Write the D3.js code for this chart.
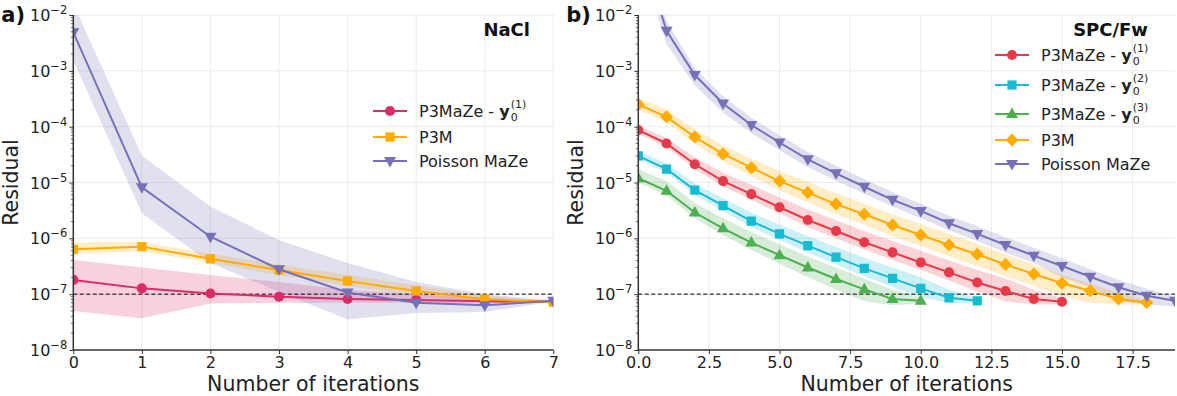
<!DOCTYPE html>
<html><head><meta charset="utf-8">
<script src="https://cdn.jsdelivr.net/npm/d3@7/dist/d3.min.js"></script>
<style>body{margin:0;background:#fff}svg{display:block;font-family:"DejaVu Sans",sans-serif}</style>
</head><body><svg id="c" width="1177" height="396"></svg>
<script>
// ---------- data: panel a) NaCl ----------
const itersA = [0,1,2,3,4,5,6,7];
const aP3MaZe    = [1.8e-7,1.27e-7,1.03e-7,9.0e-8,8.2e-8,7.9e-8,7.5e-8,7.3e-8];
const aP3MaZeLo  = [5.0e-8,3.7e-8,6.8e-8,7.0e-8,7.0e-8,7.0e-8,6.8e-8,7.0e-8];
const aP3MaZeHi  = [4.1e-7,3.0e-7,2.2e-7,1.65e-7,1.2e-7,1.0e-7,8.5e-8,7.6e-8];
const aP3M       = [6.35e-7,7.1e-7,4.3e-7,2.7e-7,1.72e-7,1.14e-7,8.1e-8,7.2e-8];
const aP3MLo     = [5.3e-7,5.9e-7,3.6e-7,2.2e-7,1.4e-7,9.5e-8,7.2e-8,7.0e-8];
const aP3MHi     = [8.4e-7,8.6e-7,5.3e-7,3.4e-7,2.2e-7,1.45e-7,9.5e-8,7.5e-8];
const aPM        = [4.9e-3,8.2e-6,1.07e-6,2.8e-7,1.07e-7,7.0e-8,6.3e-8,7.6e-8];
const aPMLo      = [1.55e-3,2.8e-6,3.6e-7,1.1e-7,3.5e-8,4.6e-8,4.8e-8,7.3e-8];
const aPMHi      = [1.6e-2,3.0e-5,3.7e-6,9.3e-7,3.6e-7,1.65e-7,1.0e-7,7.8e-8];
const ticksA = [0,1,2,3,4,5,6,7];

// ---------- data: panel b) SPC/Fw ----------
const bY1   = [8.7e-5,5.0e-5,2.12e-5,1.06e-5,6.2e-6,3.6e-6,2.13e-6,1.35e-6,8.5e-7,5.6e-7,3.7e-7,2.46e-7,1.62e-7,1.14e-7,8.2e-8,7.3e-8];
const bY1Lo = [7.5e-5,4.3e-5,1.75e-5,8.5e-6,4.9e-6,2.8e-6,1.6e-6,1.0e-6,6.3e-7,4.1e-7,2.7e-7,1.75e-7,1.1e-7,7.5e-8,6.5e-8,6.5e-8];
const bY1Hi = [1.05e-4,6.2e-5,2.8e-5,1.5e-5,9.0e-6,5.4e-6,3.3e-6,2.1e-6,1.35e-6,9.0e-7,6.0e-7,4.0e-7,2.7e-7,1.9e-7,1.2e-7,8.5e-8];
const bY2   = [3.0e-5,1.74e-5,7.3e-6,3.85e-6,2.04e-6,1.2e-6,7.4e-7,4.6e-7,2.9e-7,1.92e-7,1.27e-7,8.6e-8,7.6e-8];
const bY2Lo = [2.6e-5,1.5e-5,6.0e-6,3.1e-6,1.6e-6,9.3e-7,5.6e-7,3.4e-7,2.1e-7,1.35e-7,8.8e-8,7.0e-8,7.0e-8];
const bY2Hi = [3.7e-5,2.2e-5,9.5e-6,5.2e-6,2.9e-6,1.75e-6,1.1e-6,7.0e-7,4.5e-7,3.0e-7,2.0e-7,1.2e-7,8.5e-8];
const bY3   = [1.19e-5,7.1e-6,2.9e-6,1.51e-6,8.4e-7,5.0e-7,3.0e-7,1.87e-7,1.22e-7,8.2e-8,7.6e-8];
const bY3Lo = [1.0e-5,5.8e-6,2.3e-6,1.15e-6,6.2e-7,3.5e-7,2.0e-7,1.2e-7,7.5e-8,6.3e-8,6.8e-8];
const bY3Hi = [1.75e-5,1.05e-5,4.3e-6,2.3e-6,1.3e-6,7.8e-7,4.7e-7,3.0e-7,1.9e-7,1.2e-7,8.5e-8];
const bP3M   = [2.5e-4,1.5e-4,6.5e-5,3.25e-5,1.84e-5,1.06e-5,6.6e-6,4.1e-6,2.7e-6,1.73e-6,1.15e-6,7.6e-7,5.2e-7,3.4e-7,2.3e-7,1.57e-7,1.15e-7,8.2e-8,7.1e-8];
const bP3MLo = [2.0e-4,1.2e-4,5.0e-5,2.4e-5,1.3e-5,7.3e-6,4.4e-6,2.7e-6,1.75e-6,1.1e-6,7.3e-7,4.8e-7,3.2e-7,2.1e-7,1.4e-7,9.2e-8,7.0e-8,6.6e-8,6.4e-8];
const bP3MHi = [3.3e-4,2.0e-4,9.0e-5,4.6e-5,2.7e-5,1.6e-5,1.02e-5,6.4e-6,4.2e-6,2.7e-6,1.8e-6,1.2e-6,8.0e-7,5.2e-7,3.4e-7,2.2e-7,1.55e-7,1.05e-7,7.8e-8];
const bPM   = [0.23,5.2e-3,8.4e-4,2.6e-4,1.07e-4,5.2e-5,2.6e-5,1.46e-5,8.4e-6,4.9e-6,3.1e-6,1.86e-6,1.2e-6,7.6e-7,4.9e-7,3.2e-7,2.05e-7,1.33e-7,9.4e-8,7.6e-8];
const bPMLo = [0.12,3.0e-3,5.5e-4,1.8e-4,7.6e-5,3.8e-5,1.9e-5,1.08e-5,6.3e-6,3.7e-6,2.3e-6,1.4e-6,9.0e-7,5.6e-7,3.6e-7,2.0e-7,1.35e-7,7.5e-8,6.5e-8,6.0e-8];
const bPMHi = [0.4,8.0e-3,1.1e-3,3.5e-4,1.45e-4,7.0e-5,3.5e-5,2.0e-5,1.15e-5,6.7e-6,4.2e-6,2.55e-6,1.65e-6,1.05e-6,6.8e-7,4.4e-7,2.8e-7,1.8e-7,1.25e-7,9.0e-8];
const ticksB = [0,2.5,5,7.5,10,12.5,15,17.5];

const yTickExps = [-8,-7,-6,-5,-4,-3,-2];
const threshold = 1e-7;

// ---------- drawing ----------
const svg = d3.select("#c");
const Y0 = 15, Y1 = 350;
const y = d3.scaleLog().domain([1e-8,1e-2]).range([Y1,Y0]);

function panel(opt){
  const x = d3.scaleLinear().domain(opt.xdom).range(opt.xr);
  const g = svg.append("g");
  const cid = "clip"+opt.id;
  svg.append("defs").append("clipPath").attr("id",cid).append("rect")
    .attr("x",opt.xr[0]).attr("y",Y0).attr("width",opt.xr[1]-opt.xr[0]).attr("height",Y1-Y0);
  // grid
  const grid = g.append("g").attr("stroke","#ebebeb").attr("stroke-width",1);
  opt.xticks.forEach(t=>grid.append("line").attr("x1",x(t)).attr("x2",x(t)).attr("y1",Y0).attr("y2",Y1));
  yTickExps.forEach(e=>grid.append("line").attr("x1",opt.xr[0]).attr("x2",opt.xr[1]).attr("y1",y(Math.pow(10,e))).attr("y2",y(Math.pow(10,e))));
  const data = g.append("g").attr("clip-path",`url(#${cid})`);
  // bands
  opt.series.forEach(s=>{
    const pts = s.v.map((v,i)=>({x:i,v,lo:s.lo[i],hi:s.hi[i]}));
    data.append("path").datum(pts)
      .attr("d",d3.area().x(d=>x(d.x)).y0(d=>y(d.lo)).y1(d=>y(d.hi)))
      .attr("fill",s.color).attr("fill-opacity",0.22).attr("stroke","none");
  });
  // threshold
  data.append("line").attr("x1",opt.xr[0]).attr("x2",opt.xr[1]).attr("y1",y(threshold)).attr("y2",y(threshold))
    .attr("stroke","#000").attr("stroke-width",1).attr("stroke-dasharray","4,2.5");
  // lines + markers
  opt.series.forEach(s=>{
    const pts = s.v.map((v,i)=>({x:i,v}));
    data.append("path").datum(pts).attr("d",d3.line().x(d=>x(d.x)).y(d=>y(d.v)))
      .attr("fill","none").attr("stroke",s.color).attr("stroke-width",2);
    data.selectAll(null).data(pts).enter().append("path")
      .attr("transform",d=>`translate(${x(d.x)},${y(d.v)})`)
      .attr("d",marker(s.m)).attr("fill",s.color);
  });
  // axes
  const ya = d3.axisLeft(y).tickValues(yTickExps.map(e=>Math.pow(10,e))).tickSize(4).tickFormat("");
  const ygA = g.append("g").attr("transform",`translate(${opt.xr[0]},0)`).call(ya);
  ygA.select(".domain").remove();
  ygA.selectAll("line").attr("stroke","#333").attr("stroke-width",1);
  const minors=[];
  for(let e=-8;e<-2;e++) for(let k=2;k<10;k++) minors.push(k*Math.pow(10,e));
  g.append("g").selectAll(null).data(minors).enter().append("line")
    .attr("x1",opt.xr[0]).attr("x2",opt.xr[0]-2.5).attr("y1",d=>y(d)).attr("y2",d=>y(d))
    .attr("stroke","#333").attr("stroke-width",0.7);
  yTickExps.forEach(e=>{
    const t = g.append("text").attr("x",opt.xr[0]-6).attr("y",y(Math.pow(10,e))+6)
      .attr("text-anchor","end").attr("font-size",16).attr("fill","#222");
    t.append("tspan").text("10");
    t.append("tspan").attr("dy",-7).attr("font-size",11.5).text("\u2212"+(-e));
  });
  const xa = d3.axisBottom(x).tickValues(opt.xticks).tickSize(4).tickFormat(opt.fmt);
  const xg = g.append("g").attr("transform",`translate(0,${Y1})`).call(xa);
  xg.select(".domain").remove();
  xg.selectAll("line").attr("stroke","#333");
  xg.selectAll("text").attr("font-size",16).attr("fill","#222").attr("font-family","DejaVu Sans").attr("dy","0.68em");
  // spines
  g.append("line").attr("x1",opt.xr[0]).attr("x2",opt.xr[0]).attr("y1",Y0).attr("y2",Y1).attr("stroke","#333").attr("stroke-width",1.5);
  g.append("line").attr("x1",opt.xr[0]).attr("x2",opt.xr[1]).attr("y1",Y1).attr("y2",Y1).attr("stroke","#333").attr("stroke-width",1.5);
  // labels
  g.append("text").attr("x",(opt.xr[0]+opt.xr[1])/2).attr("y",391).attr("text-anchor","middle")
    .attr("font-size",20.5).attr("fill","#222").text("Number of iterations");
  g.append("text").attr("transform",`translate(${opt.xr[0]-55},${(Y0+Y1)/2}) rotate(-90)`).attr("text-anchor","middle")
    .attr("font-size",20.5).attr("fill","#222").text("Residual");
  g.append("text").attr("x",opt.xr[0]-72).attr("y",22).attr("font-size",21).attr("font-weight","bold").attr("fill","#111").text(opt.tag);
  g.append("text").attr("x",opt.titleX).attr("y",36).attr("text-anchor","end").attr("font-size",18).attr("font-weight","bold").attr("fill","#111").text(opt.title);
  // legend
  opt.series.forEach((s,i)=>{
    const ly = opt.legY[i];
    g.append("line").attr("x1",opt.legX).attr("x2",opt.legX+34).attr("y1",ly).attr("y2",ly).attr("stroke",s.color).attr("stroke-width",2);
    g.append("path").attr("transform",`translate(${opt.legX+17},${ly})`).attr("d",marker(s.m)).attr("fill",s.color);
    const t = g.append("text").attr("x",opt.legX+46).attr("y",ly+6).attr("font-size",16).attr("fill","#222");
    if(s.sup){
      t.append("tspan").text("P3MaZe - ");
      t.append("tspan").attr("font-weight","bold").text("y");
      const w = t.node().getComputedTextLength();
      g.append("text").attr("x",opt.legX+46+w+1).attr("y",ly+10).attr("font-size",11).attr("fill","#222").text("0");
      g.append("text").attr("x",opt.legX+46+w+1).attr("y",ly-3).attr("font-size",11).attr("fill","#222").text("("+s.sup+")");
    } else t.text(s.name);
  });
}
function marker(m){
  if(m==="circle") return d3.symbol(d3.symbolCircle,80)();
  if(m==="square") return d3.symbol(d3.symbolSquare,85)();
  if(m==="diamond") return "M0,-6.5L6.5,0L0,6.5L-6.5,0Z";
  if(m==="tri") return "M0,-6.5L6,4L-6,4Z";
  if(m==="tridown") return "M0,6.5L6,-4L-6,-4Z";
}

const cPink="#dd2a68", cRed="#e8394a", cCyan="#17bcd3", cGreen="#4caf50", cOrange="#ffab00", cPurple="#7570b8";

panel({id:"a", xdom:[0,7], xr:[73.3,553.3], xticks:ticksA, fmt:d3.format("d"), tag:"a)", title:"NaCl", titleX:530,
  legX:373, legY:[111,137,161],
  series:[
    {name:"P3MaZe", sup:"1", v:aP3MaZe, lo:aP3MaZeLo, hi:aP3MaZeHi, color:cPink, m:"circle"},
    {name:"P3M", v:aP3M, lo:aP3MLo, hi:aP3MHi, color:cOrange, m:"square"},
    {name:"Poisson MaZe", v:aPM, lo:aPMLo, hi:aPMHi, color:cPurple, m:"tridown"}
  ]});
panel({id:"b", xdom:[0,19], xr:[638.3,1175], xticks:ticksB, fmt:d3.format(".1f"), tag:"b)", title:"SPC/Fw", titleX:1148,
  legX:995, legY:[55,85,114,140,164],
  series:[
    {name:"P3MaZe", sup:"1", v:bY1, lo:bY1Lo, hi:bY1Hi, color:cRed, m:"circle"},
    {name:"P3MaZe", sup:"2", v:bY2, lo:bY2Lo, hi:bY2Hi, color:cCyan, m:"square"},
    {name:"P3MaZe", sup:"3", v:bY3, lo:bY3Lo, hi:bY3Hi, color:cGreen, m:"tri"},
    {name:"P3M", v:bP3M, lo:bP3MLo, hi:bP3MHi, color:cOrange, m:"diamond"},
    {name:"Poisson MaZe", v:bPM, lo:bPMLo, hi:bPMHi, color:cPurple, m:"tridown"}
  ]});
</script></body></html>
